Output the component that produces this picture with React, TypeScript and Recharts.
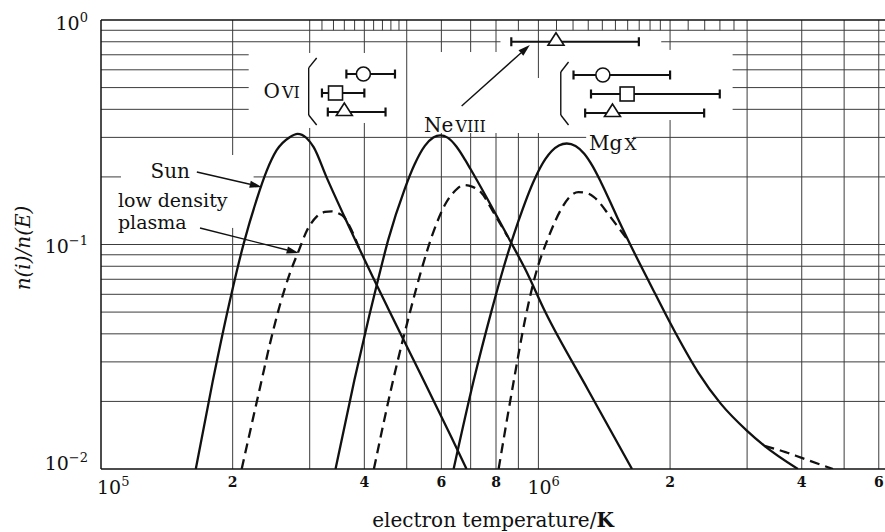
import React from "react";
import {
  LineChart,
  Line,
  XAxis,
  YAxis,
  ReferenceLine,
  ReferenceDot,
  Label,
} from "recharts";

const FONT = "DejaVu Serif";
const INK = "#111";
const GRID = "#3c3c3c";

const T_MIN = 1e5;
const T_MAX = 6.2e6;
const Y_MIN = 0.01;
const Y_MAX = 1;

// ion fractions n(i)/n(E) vs temperature, solar model (solid)
const oviSun = [
  { t: 1.647e5, v: 0.01 },
  { t: 1.8e5, v: 0.0245 },
  { t: 1.99e5, v: 0.061 },
  { t: 2.12e5, v: 0.1012 },
  { t: 2.269e5, v: 0.1585 },
  { t: 2.392e5, v: 0.2128 },
  { t: 2.521e5, v: 0.263 },
  { t: 2.7e5, v: 0.3006 },
  { t: 2.814e5, v: 0.3112 },
  { t: 2.95e5, v: 0.2982 },
  { t: 3.063e5, v: 0.2714 },
  { t: 3.279e5, v: 0.1991 },
  { t: 3.584e5, v: 0.1358 },
  { t: 3.836e5, v: 0.1021 },
  { t: 4.185e5, v: 0.0714 },
  { t: 4.539e5, v: 0.0516 },
  { t: 5e5, v: 0.0352 },
  { t: 5.478e5, v: 0.0246 },
  { t: 6.33e5, v: 0.0138 },
  { t: 6.85e5, v: 0.01 },
];

const neSun = [
  { t: 3.437e5, v: 0.01 },
  { t: 3.796e5, v: 0.0249 },
  { t: 4.102e5, v: 0.0479 },
  { t: 4.314e5, v: 0.0716 },
  { t: 4.539e5, v: 0.1054 },
  { t: 4.946e5, v: 0.1766 },
  { t: 5.206e5, v: 0.2265 },
  { t: 5.5e5, v: 0.2748 },
  { t: 5.75e5, v: 0.2994 },
  { t: 5.97e5, v: 0.3064 },
  { t: 6.2e5, v: 0.2993 },
  { t: 6.5e5, v: 0.2727 },
  { t: 6.8e5, v: 0.2382 },
  { t: 7e5, v: 0.2163 },
  { t: 7.63e5, v: 0.1607 },
  { t: 8.59e5, v: 0.105 },
  { t: 9.31e5, v: 0.0783 },
  { t: 1.037e6, v: 0.05 },
  { t: 1.299e6, v: 0.0225 },
  { t: 1.637e6, v: 0.01 },
];

const mgSun = [
  { t: 6.4e5, v: 0.01 },
  { t: 7.11e5, v: 0.0247 },
  { t: 7.83e5, v: 0.0514 },
  { t: 8.31e5, v: 0.078 },
  { t: 9e5, v: 0.127 },
  { t: 9.8e5, v: 0.1954 },
  { t: 1.037e6, v: 0.2399 },
  { t: 1.114e6, v: 0.2759 },
  { t: 1.161e6, v: 0.2818 },
  { t: 1.216e6, v: 0.2748 },
  { t: 1.273e6, v: 0.2535 },
  { t: 1.329e6, v: 0.2238 },
  { t: 1.389e6, v: 0.19 },
  { t: 1.515e6, v: 0.132 },
  { t: 1.645e6, v: 0.0945 },
  { t: 1.796e6, v: 0.0674 },
  { t: 2.041e6, v: 0.0416 },
  { t: 2.32e6, v: 0.0269 },
  { t: 2.611e6, v: 0.01955 },
  { t: 3e6, v: 0.01479 },
  { t: 3.287e6, v: 0.01268 },
  { t: 3.92e6, v: 0.01 },
];

// low density plasma (dashed)
const oviLow = [
  { t: 2.097e5, v: 0.01 },
  { t: 2.33e5, v: 0.0249 },
  { t: 2.43e5, v: 0.0357 },
  { t: 2.561e5, v: 0.0532 },
  { t: 2.7e5, v: 0.074 },
  { t: 2.831e5, v: 0.0937 },
  { t: 2.953e5, v: 0.1148 },
  { t: 3.112e5, v: 0.133 },
  { t: 3.25e5, v: 0.1396 },
  { t: 3.366e5, v: 0.1406 },
  { t: 3.5e5, v: 0.1374 },
  { t: 3.584e5, v: 0.1334 },
  { t: 3.694e5, v: 0.1216 },
  { t: 3.929e5, v: 0.0916 },
];

const neLow = [
  { t: 4.206e5, v: 0.01 },
  { t: 4.655e5, v: 0.0249 },
  { t: 5.127e5, v: 0.053 },
  { t: 5.395e5, v: 0.0764 },
  { t: 5.763e5, v: 0.1148 },
  { t: 6.16e5, v: 0.1542 },
  { t: 6.45e5, v: 0.1735 },
  { t: 6.74e5, v: 0.184 },
  { t: 7.05e5, v: 0.181 },
  { t: 7.38e5, v: 0.1713 },
  { t: 7.91e5, v: 0.1381 },
  { t: 8.5e5, v: 0.1085 },
];

const mgLow = [
  { t: 8.11e5, v: 0.01 },
  { t: 8.79e5, v: 0.0249 },
  { t: 9.31e5, v: 0.0457 },
  { t: 9.8e5, v: 0.0708 },
  { t: 1.058e6, v: 0.1096 },
  { t: 1.131e6, v: 0.1452 },
  { t: 1.18e6, v: 0.1633 },
  { t: 1.234e6, v: 0.171 },
  { t: 1.29e6, v: 0.1694 },
  { t: 1.34e6, v: 0.1626 },
  { t: 1.462e6, v: 0.1324 },
  { t: 1.539e6, v: 0.1159 },
  { t: 1.603e6, v: 0.1045 },
];

const mgLowTail = [
  { t: 3.287e6, v: 0.01268 },
  { t: 3.672e6, v: 0.0119 },
  { t: 4e6, v: 0.0112 },
  { t: 4.716e6, v: 0.01 },
];

// axis ticks
const xTicks = [1e5, 2e5, 4e5, 6e5, 8e5, 1e6, 2e6, 4e6, 6e6];
const yTicks = [0.01, 0.1, 1];

// grid segments: horizontal {v, from, to}, vertical {t, from, to}
const hGrid = [
  { v: 0.9, from: T_MIN, to: T_MAX },
  { v: 0.8, from: T_MIN, to: 8.19e5 },
  { v: 0.8, from: 1.909e6, to: T_MAX },
  { v: 0.7, from: T_MIN, to: 2.176e5 },
  { v: 0.7, from: 2.78e6, to: T_MAX },
  { v: 0.6, from: T_MIN, to: 2.176e5 },
  { v: 0.6, from: 2.78e6, to: T_MAX },
  { v: 0.5, from: T_MIN, to: 2.176e5 },
  { v: 0.5, from: 2.78e6, to: T_MAX },
  { v: 0.4, from: T_MIN, to: 2.176e5 },
  { v: 0.4, from: 2.78e6, to: T_MAX },
  { v: 0.3, from: T_MIN, to: 1.286e6 },
  { v: 0.3, from: 1.645e6, to: T_MAX },
  { v: 0.2, from: T_MIN, to: 1.111e5 },
  { v: 0.2, from: 2.233e5, to: T_MAX },
  { v: 0.1, from: T_MIN, to: T_MAX },
  { v: 0.09, from: T_MIN, to: T_MAX },
  { v: 0.08, from: T_MIN, to: T_MAX },
  { v: 0.07, from: T_MIN, to: T_MAX },
  { v: 0.06, from: T_MIN, to: T_MAX },
  { v: 0.05, from: T_MIN, to: T_MAX },
  { v: 0.04, from: T_MIN, to: T_MAX },
  { v: 0.03, from: T_MIN, to: T_MAX },
  { v: 0.02, from: T_MIN, to: T_MAX },
];

const vGrid = [
  { t: 2e5, from: 0.2504, to: Y_MAX },
  { t: 2e5, from: Y_MIN, to: 0.1185 },
  { t: 3e5, from: 0.7129, to: Y_MAX },
  { t: 3e5, from: Y_MIN, to: 0.3304 },
  { t: 4e5, from: 0.7129, to: Y_MAX },
  { t: 4e5, from: Y_MIN, to: 0.3477 },
  { t: 5e5, from: Y_MIN, to: Y_MAX },
  { t: 6e5, from: 0.72, to: Y_MAX },
  { t: 6e5, from: Y_MIN, to: 0.3138 },
  { t: 7e5, from: 0.72, to: Y_MAX },
  { t: 7e5, from: Y_MIN, to: 0.3138 },
  { t: 8e5, from: 0.72, to: Y_MAX },
  { t: 8e5, from: Y_MIN, to: 0.3138 },
  { t: 9e5, from: 0.893, to: Y_MAX },
  { t: 9e5, from: Y_MIN, to: 0.3138 },
  { t: 1e6, from: 0.5515, to: Y_MAX },
  { t: 1e6, from: Y_MIN, to: 0.3138 },
  { t: 2e6, from: 0.7356, to: Y_MAX },
  { t: 2e6, from: Y_MIN, to: 0.3585 },
  { t: 3e6, from: Y_MIN, to: Y_MAX },
  { t: 4e6, from: Y_MIN, to: Y_MAX },
  { t: 5e6, from: Y_MIN, to: Y_MAX },
  { t: 6e6, from: Y_MIN, to: Y_MAX },
];

// short ticks along the top edge
const topTicks = [
  3.2e5, 3.4e5, 3.6e5, 3.8e5, 4.2e5, 4.4e5, 4.6e5, 4.8e5,
  1.1e6, 1.2e6, 1.3e6, 1.4e6, 1.5e6, 1.6e6, 1.7e6, 1.8e6, 1.9e6,
  2.2e6, 2.4e6, 2.6e6, 2.8e6,
];

// observed temperature ranges (error bars) with marker
const obsBars = [
  { lo: 3.639e5, hi: 4.7e5, at: 3.98e5, v: 0.5746, mark: "circle" },
  { lo: 3.2e5, hi: 4e5, at: 3.437e5, v: 0.473, mark: "square" },
  { lo: 3.3e5, hi: 4.472e5, at: 3.6e5, v: 0.3892, mark: "triangle" },
  { lo: 8.67e5, hi: 1.697e6, at: 1.097e6, v: 0.8, mark: "triangle" },
  { lo: 1.203e6, hi: 2e6, at: 1.404e6, v: 0.5689, mark: "circle" },
  { lo: 1.319e6, hi: 2.598e6, at: 1.595e6, v: 0.4682, mark: "square" },
  { lo: 1.279e6, hi: 2.393e6, at: 1.477e6, v: 0.3852, mark: "triangle" },
];

const braces = [
  [
    { x: 3.112e5, y: 0.6776 },
    { x: 2.984e5, y: 0.6116 },
    { x: 2.984e5, y: 0.3775 },
    { x: 3.112e5, y: 0.3406 },
  ],
  [
    { x: 1.172e6, y: 0.65 },
    { x: 1.125e6, y: 0.5866 },
    { x: 1.125e6, y: 0.3775 },
    { x: 1.172e6, y: 0.3406 },
  ],
];

const arrows = [
  { from: { x: 1.656e5, y: 0.2103 }, to: { x: 2.33e5, y: 0.1804 } },
  { from: { x: 1.684e5, y: 0.1185 }, to: { x: 2.831e5, y: 0.0917 } },
  { from: { x: 6.676e5, y: 0.414 }, to: { x: 9.56e5, y: 0.7738 } },
];

const notes = [
  { t: 1.298e5, v: 0.1978, parts: [["Sun", 20]] },
  { t: 1.093e5, v: 0.1469, parts: [["low density", 19]] },
  { t: 1.093e5, v: 0.1173, parts: [["plasma", 19]] },
  { t: 2.353e5, v: 0.4494, parts: [["O", 20], ["VI", 16]] },
  { t: 5.478e5, v: 0.317, parts: [["Ne", 20], ["VIII", 16]] },
  { t: 1.306e6, v: 0.2636, parts: [["Mg", 20], ["X", 17]] },
];

const XTick = (props: any) => {
  const { x, y, payload } = props;
  const v = payload.value as number;
  const e = Math.log10(v);
  if (Math.abs(e - Math.round(e)) < 1e-6) {
    const left = v === T_MIN ? x - 4 : x - 11;
    return (
      <text x={left} y={y + 25} fontFamily={FONT} fontSize={19} fill={INK}>
        10
        <tspan dy={-8} fontSize={13}>
          {Math.round(e)}
        </tspan>
      </text>
    );
  }
  const digit = Math.round(v / 10 ** Math.floor(e));
  return (
    <text
      x={x}
      y={y + 18}
      textAnchor="middle"
      fontFamily={FONT}
      fontSize={14}
      fontWeight="bold"
      fill={INK}
    >
      {digit}
    </text>
  );
};

const YTick = (props: any) => {
  const { x, y, payload } = props;
  const e = Math.round(Math.log10(payload.value));
  const dy = e === 0 ? 10 : e === -1 ? 8 : 1;
  return (
    <text x={x} y={y + dy} textAnchor="end" fontFamily={FONT} fontSize={19} fill={INK}>
      10
      <tspan dy={-8} fontSize={13}>
        {e === 0 ? "0" : `\u2212${-e}`}
      </tspan>
    </text>
  );
};

const ErrBar = (p: any) => {
  const { x1, y1, x2 } = p;
  return (
    <g stroke={INK} strokeWidth={2.2}>
      <line x1={x1} y1={y1} x2={x2} y2={y1} />
      <line x1={x1} y1={y1 - 4.5} x2={x1} y2={y1 + 4.5} />
      <line x1={x2} y1={y1 - 4.5} x2={x2} y2={y1 + 4.5} />
    </g>
  );
};

const Arrow = (p: any) => {
  const { x1, y1, x2, y2 } = p;
  const a = Math.atan2(y2 - y1, x2 - x1);
  const len = 12;
  const w = 3.6;
  const bx = x2 - len * Math.cos(a);
  const by = y2 - len * Math.sin(a);
  const nx = -Math.sin(a) * w;
  const ny = Math.cos(a) * w;
  return (
    <g>
      <line x1={x1} y1={y1} x2={bx} y2={by} stroke={INK} strokeWidth={1.4} />
      <polygon
        points={`${x2},${y2} ${bx + nx},${by + ny} ${bx - nx},${by - ny}`}
        fill={INK}
      />
    </g>
  );
};

const marker = (kind: string) => (p: any) => {
  const { cx, cy } = p;
  if (kind === "circle") {
    return <circle cx={cx} cy={cy} r={7} fill="#fff" stroke={INK} strokeWidth={1.6} />;
  }
  if (kind === "square") {
    return (
      <rect x={cx - 7} y={cy - 7} width={14} height={14} fill="#fff" stroke={INK} strokeWidth={1.6} />
    );
  }
  return (
    <polygon
      points={`${cx},${cy - 9} ${cx - 8},${cy + 3.5} ${cx + 8},${cy + 3.5}`}
      fill="#fff"
      stroke={INK}
      strokeWidth={1.6}
    />
  );
};

const note = (parts: any[]) => (p: any) => (
  <text x={p.cx} y={p.cy} fontFamily={FONT} fill={INK}>
    {parts.map(([s, size]: any, i: number) => (
      <tspan key={i} fontSize={size} dx={i > 0 ? 2 : 0}>
        {s}
      </tspan>
    ))}
  </text>
);

export default function App() {
  const solid = { stroke: INK, strokeWidth: 2.3, dot: false, activeDot: false, type: "monotone" as const };
  const dashed = { ...solid, strokeDasharray: "10 6" };

  return (
    <div style={{ position: "absolute", left: 0, top: 0, background: "#fff" }}>
      <LineChart width={885} height={532} margin={{ top: 20, right: 0, bottom: 0, left: 0 }}>
        <XAxis
          type="number"
          dataKey="t"
          scale="log"
          domain={[T_MIN, T_MAX]}
          allowDataOverflow
          ticks={xTicks}
          interval={0}
          tick={<XTick />}
          tickLine={false}
          tickSize={0}
          tickMargin={0}
          height={63}
          axisLine={{ stroke: INK, strokeWidth: 1.5 }}
        >
          <Label
            content={(props: any) => {
              const vb = props.viewBox;
              return (
                <text
                  x={vb.x + vb.width / 2}
                  y={vb.y + 58}
                  textAnchor="middle"
                  fontFamily={FONT}
                  fontSize={20}
                  fill={INK}
                >
                  electron temperature/<tspan fontWeight="bold">K</tspan>
                </text>
              );
            }}
          />
        </XAxis>
        <YAxis
          type="number"
          scale="log"
          domain={[Y_MIN, Y_MAX]}
          allowDataOverflow
          ticks={yTicks}
          interval={0}
          tick={<YTick />}
          tickLine={false}
          tickSize={0}
          tickMargin={13}
          width={101}
          axisLine={{ stroke: INK, strokeWidth: 1.5 }}
        >
          <Label
            content={() => (
              <text
                x={30}
                y={248}
                transform="rotate(-90, 30, 248)"
                textAnchor="middle"
                fontFamily={FONT}
                fontStyle="italic"
                fontSize={20}
                fill={INK}
              >
                n(i)/n(E)
              </text>
            )}
          />
        </YAxis>

        {hGrid.map((g, i) => (
          <ReferenceLine
            key={`h${i}`}
            segment={[{ x: g.from, y: g.v }, { x: g.to, y: g.v }]}
            stroke={GRID}
            strokeWidth={1}
            ifOverflow="visible"
          />
        ))}
        {vGrid.map((g, i) => (
          <ReferenceLine
            key={`v${i}`}
            segment={[{ x: g.t, y: g.from }, { x: g.t, y: g.to }]}
            stroke={GRID}
            strokeWidth={1}
            ifOverflow="visible"
          />
        ))}
        {topTicks.map((t, i) => (
          <ReferenceLine
            key={`tt${i}`}
            segment={[{ x: t, y: 0.9 }, { x: t, y: Y_MAX }]}
            stroke={GRID}
            strokeWidth={1}
            ifOverflow="visible"
          />
        ))}
        <ReferenceLine
          segment={[{ x: T_MIN, y: Y_MAX }, { x: T_MAX, y: Y_MAX }]}
          stroke={INK}
          strokeWidth={1.5}
          ifOverflow="visible"
        />

        {braces.map((b, i) =>
          b.slice(1).map((pt, j) => (
            <ReferenceLine
              key={`b${i}-${j}`}
              segment={[b[j], pt]}
              stroke={INK}
              strokeWidth={1.4}
              ifOverflow="visible"
            />
          ))
        )}
        {arrows.map((a, i) => (
          <ReferenceLine
            key={`a${i}`}
            segment={[a.from, a.to]}
            shape={<Arrow />}
            ifOverflow="visible"
          />
        ))}
        {obsBars.map((o, i) => (
          <ReferenceLine
            key={`e${i}`}
            segment={[{ x: o.lo, y: o.v }, { x: o.hi, y: o.v }]}
            shape={<ErrBar />}
            ifOverflow="visible"
          />
        ))}
        {obsBars.map((o, i) => (
          <ReferenceDot
            key={`m${i}`}
            x={o.at}
            y={o.v}
            ifOverflow="visible"
            shape={marker(o.mark)}
          />
        ))}

        <Line data={oviLow} dataKey="v" {...dashed} isAnimationActive={false} />
        <Line data={neLow} dataKey="v" {...dashed} isAnimationActive={false} />
        <Line data={mgLow} dataKey="v" {...dashed} isAnimationActive={false} />
        <Line data={mgLowTail} dataKey="v" {...dashed} isAnimationActive={false} />
        <Line data={oviSun} dataKey="v" {...solid} isAnimationActive={false} />
        <Line data={neSun} dataKey="v" {...solid} isAnimationActive={false} />
        <Line data={mgSun} dataKey="v" {...solid} isAnimationActive={false} />

        {notes.map((n, i) => (
          <ReferenceDot key={`n${i}`} x={n.t} y={n.v} ifOverflow="visible" shape={note(n.parts)} />
        ))}
      </LineChart>
    </div>
  );
}
